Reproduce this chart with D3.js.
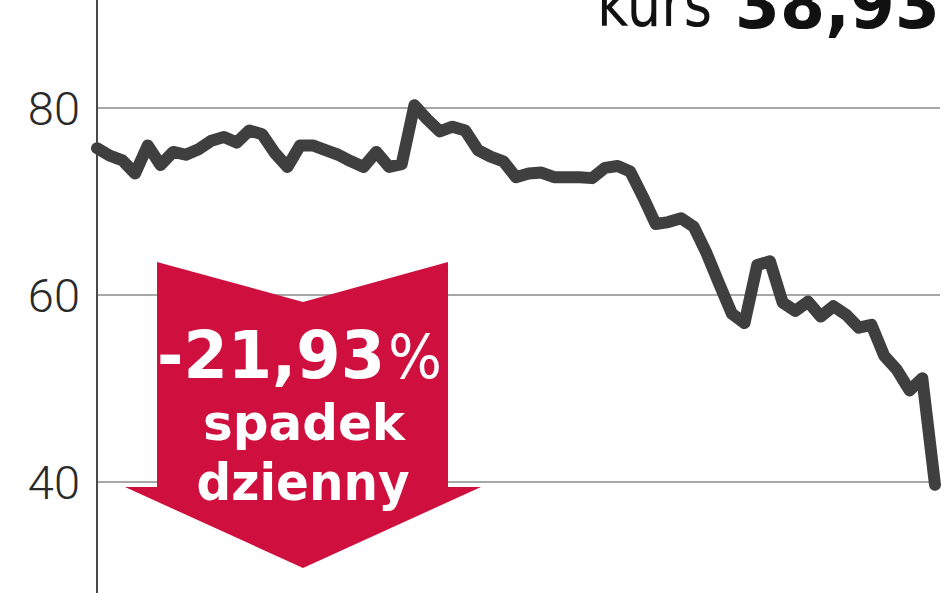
<!DOCTYPE html>
<html><head><meta charset="utf-8">
<script src="https://cdn.jsdelivr.net/npm/d3@7"></script>
<style>html,body{margin:0;padding:0;background:#fff;overflow:hidden}</style>
</head><body>
<svg id="c" width="948" height="593"></svg>
<script>
// ---- data ----
const days = d3.range(0, 67);
const prices = [75.7,74.9,74.4,73.0,76.0,73.9,75.3,75.0,75.6,76.5,
  76.9,76.3,77.6,77.2,75.2,73.7,76.0,76.0,75.5,75.0,
  74.3,73.7,75.3,73.7,74.0,80.3,78.8,77.5,78.0,77.6,
  75.5,74.8,74.3,72.6,73.0,73.1,72.6,72.6,72.6,72.5,
  73.6,73.8,73.2,70.5,67.6,67.8,68.2,67.3,64.5,61.2,
  58.0,57.0,63.2,63.6,59.2,58.3,59.3,57.7,58.8,57.9,
  56.5,56.8,53.5,52.0,49.8,51.1,39.7];
const yTicks = [40, 60, 80];
const titleLabel = "kurs";
const titleValue = "38,93";
const changeValue = "-21,93";
const changeUnit = "%";
const changeText = ["spadek", "dzienny"];

// ---- drawing ----
const svg = d3.select("#c");
const W = 948, H = 593;
const x = d3.scaleLinear().domain([0, 66]).range([97, 935]);
const y = d3.scaleLinear().domain([40, 80]).range([482, 108]);

// gridlines
svg.append("g").selectAll("line").data(yTicks).join("line")
  .attr("x1", 97).attr("x2", 940)
  .attr("y1", d => y(d)).attr("y2", d => y(d))
  .attr("stroke", "#a8a8a8").attr("stroke-width", 2);

// y axis with labels
const yAxis = d3.axisLeft(y).tickValues(yTicks).tickSize(0).tickPadding(17)
  .tickFormat(d3.format("d"));
const ga = svg.append("g").attr("transform", "translate(97,0)").call(yAxis);
ga.select(".domain").remove();
ga.selectAll("text")
  .attr("font-family", "Roboto, sans-serif").attr("font-weight", 300)
  .attr("font-size", 47).attr("fill", "#2a2a2a").attr("dy", "0.36em");
svg.append("line").attr("x1", 97).attr("x2", 97).attr("y1", 0).attr("y2", H)
  .attr("stroke", "#4a4a4a").attr("stroke-width", 2);

// price line
const line = d3.line().x((d, i) => x(days[i])).y(d => y(d));
svg.append("path").datum(prices).attr("d", line)
  .attr("fill", "none").attr("stroke", "#3f3f3f").attr("stroke-width", 12)
  .attr("stroke-linejoin", "round").attr("stroke-linecap", "round");

// red arrow annotation
const arrow = [[157,262],[303,302],[448,262],[448,487],[481,487],[303,568],[125,487],[157,487]];
svg.append("path").attr("d", "M" + arrow.join("L") + "Z").attr("fill", "#cf0f3e");

const tf = "'DejaVu Sans', sans-serif";
svg.append("text").attr("x", 157).attr("y", 378).text(changeValue)
  .attr("font-family", tf).attr("font-weight", 700).attr("font-size", 66)
  .attr("fill", "#fff").attr("textLength", 228).attr("lengthAdjust", "spacingAndGlyphs");
svg.append("text").attr("x", 388).attr("y", 378).text(changeUnit)
  .attr("font-family", tf).attr("font-weight", 400).attr("font-size", 60)
  .attr("fill", "#fff").attr("textLength", 54).attr("lengthAdjust", "spacingAndGlyphs");
svg.append("text").attr("x", 304).attr("y", 440).text(changeText[0])
  .attr("text-anchor", "middle")
  .attr("font-family", tf).attr("font-weight", 700).attr("font-size", 50)
  .attr("fill", "#fff").attr("textLength", 202).attr("lengthAdjust", "spacingAndGlyphs");
svg.append("text").attr("x", 303).attr("y", 500).text(changeText[1])
  .attr("text-anchor", "middle")
  .attr("font-family", tf).attr("font-weight", 700).attr("font-size", 51)
  .attr("fill", "#fff").attr("textLength", 213).attr("lengthAdjust", "spacingAndGlyphs");

// title (cut off at top, as in the reference)
svg.append("text").attr("x", 597).attr("y", 26).text(titleLabel)
  .attr("font-family", tf).attr("font-weight", 400).attr("font-size", 64)
  .attr("fill", "#111").attr("textLength", 115).attr("lengthAdjust", "spacingAndGlyphs");
svg.append("text").attr("x", 735).attr("y", 28).text(titleValue)
  .attr("font-family", tf).attr("font-weight", 700).attr("font-size", 70)
  .attr("fill", "#111").attr("textLength", 205).attr("lengthAdjust", "spacingAndGlyphs");
</script>
</body></html>
